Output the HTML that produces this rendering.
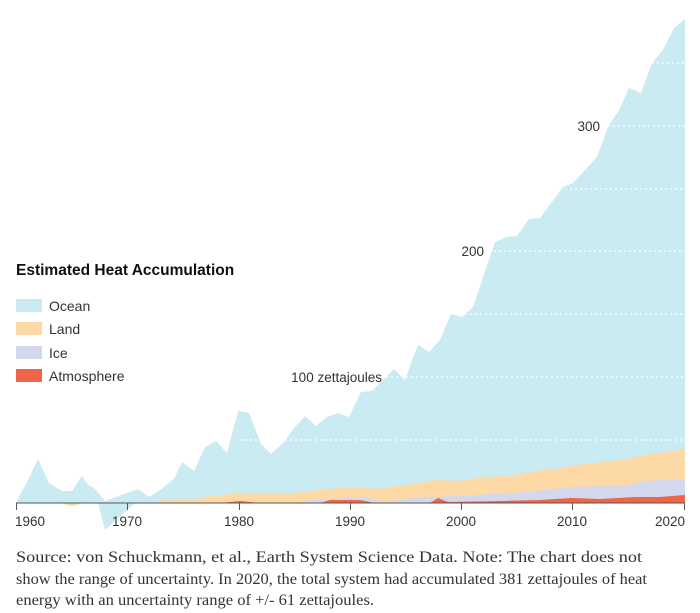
<!DOCTYPE html>
<html><head><meta charset="utf-8"><style>
body{margin:0;background:#fff;width:700px;height:613px;overflow:hidden;font-family:"Liberation Sans",sans-serif}
svg{position:absolute;left:0;top:0}
</style></head><body>
<svg width="700" height="613" xmlns="http://www.w3.org/2000/svg">
<polygon fill="#c9ebf1" points="16,503 27,482 38,459 49,483 62,491 72,491 82,476 88,485 94,488 105,501 116,497 127,493 138,489 149,497 160,490 174,479 182,462 194,471 205,447 216,441 227,453 238,411 249,413 261,444 271,454 283,443 294,428 305,416 316,426 327,417 338,413 349,417 361,392 372,391 383,380 394,369 405,380 412,360 418,345 429,352 440,340 451,314 462,317 473,307 495,242 507,237 517,236 529,219 540,218 552,202 563,187 573,183 597,157 608,127 619,110 629,88 641,93 652,63 663,50 674,28 685,19 685,503"/>
<polygon fill="#c9ebf1" points="98,503 105,530 135,503"/>
<polygon fill="#fdd9a6" points="160,503 162,499 195,499 204,497 240,493 294,493 327,489 356,487 374,489 414,484 438,480 458,481 485,477 508,476 535,471 557,469 575,465 602,462 629,459 643,455 660,453 685,449 685,503"/>
<polygon fill="#fdd9a6" points="60,503 72,506 84,503"/>
<polygon fill="#d4d8ec" points="300,503 312,500 365,497 383,502 423,497 436,497 458,496 508,493 535,491 571,487 615,486 628,485 643,481 685,479 685,503"/>
<polygon fill="#ef6548" points="220,503 240,501 260,503 320,503 330,500 360,500 375,503 430,503 438,498 448,502 500,501 540,500 571,498 600,499 637,497 660,497 685,495 685,503"/>
<g stroke="#fff" stroke-width="1.2" stroke-dasharray="2,3">
<line x1="240" y1="440" x2="685" y2="440"/>
<line x1="386" y1="377" x2="685" y2="377"/>
<line x1="460" y1="314" x2="685" y2="314"/>
<line x1="494" y1="251" x2="685" y2="251"/>
<line x1="570" y1="189" x2="685" y2="189"/>
<line x1="608" y1="126" x2="685" y2="126"/>
<line x1="652" y1="63" x2="685" y2="63"/>
</g>
<g font-size="13.5" fill="#333" text-anchor="end">
<text x="382" y="382">100 zettajoules</text>
<text x="484" y="256">200</text>
<text x="600" y="131">300</text>
</g>
<line x1="16" y1="503" x2="685" y2="503" stroke="#555" stroke-width="1"/>
<g stroke="#555"><line x1="16.5" y1="503" x2="16.5" y2="510"/><line x1="127.5" y1="503" x2="127.5" y2="510"/><line x1="239.5" y1="503" x2="239.5" y2="510"/><line x1="350.5" y1="503" x2="350.5" y2="510"/><line x1="461.5" y1="503" x2="461.5" y2="510"/><line x1="572.5" y1="503" x2="572.5" y2="510"/><line x1="684.5" y1="503" x2="684.5" y2="510"/></g>
<g font-size="13.5" fill="#333" text-anchor="middle">
<text x="30" y="526">1960</text><text x="127" y="526">1970</text><text x="239" y="526">1980</text><text x="350" y="526">1990</text><text x="461" y="526">2000</text><text x="572" y="526">2010</text><text x="670" y="526">2020</text>
</g>
<text x="16" y="275" font-size="15.5" font-weight="bold" fill="#111">Estimated Heat Accumulation</text>
<rect x="16" y="299" width="26" height="13" fill="#c9ebf1"/>
<rect x="16" y="322" width="26" height="13" fill="#fdd9a6"/>
<rect x="16" y="346" width="26" height="13" fill="#d4d8ec"/>
<rect x="16" y="369" width="26" height="13" fill="#ef6548"/>
<g font-size="14" fill="#333">
<text x="49" y="311">Ocean</text><text x="49" y="334">Land</text><text x="49" y="358">Ice</text><text x="49" y="381">Atmosphere</text>
</g>
<g font-family="Liberation Serif, serif" font-size="16" fill="#333">
<text x="16" y="562" textLength="626" lengthAdjust="spacingAndGlyphs">Source: von Schuckmann, et al., Earth System Science Data.  Note: The chart does not</text>
<text x="16" y="584" textLength="631" lengthAdjust="spacingAndGlyphs">show the range of uncertainty. In 2020, the total system had accumulated 381 zettajoules of heat</text>
<text x="16" y="605" textLength="358" lengthAdjust="spacingAndGlyphs">energy with an uncertainty range of +/- 61 zettajoules.</text>
</g>
</svg>
</body></html>
